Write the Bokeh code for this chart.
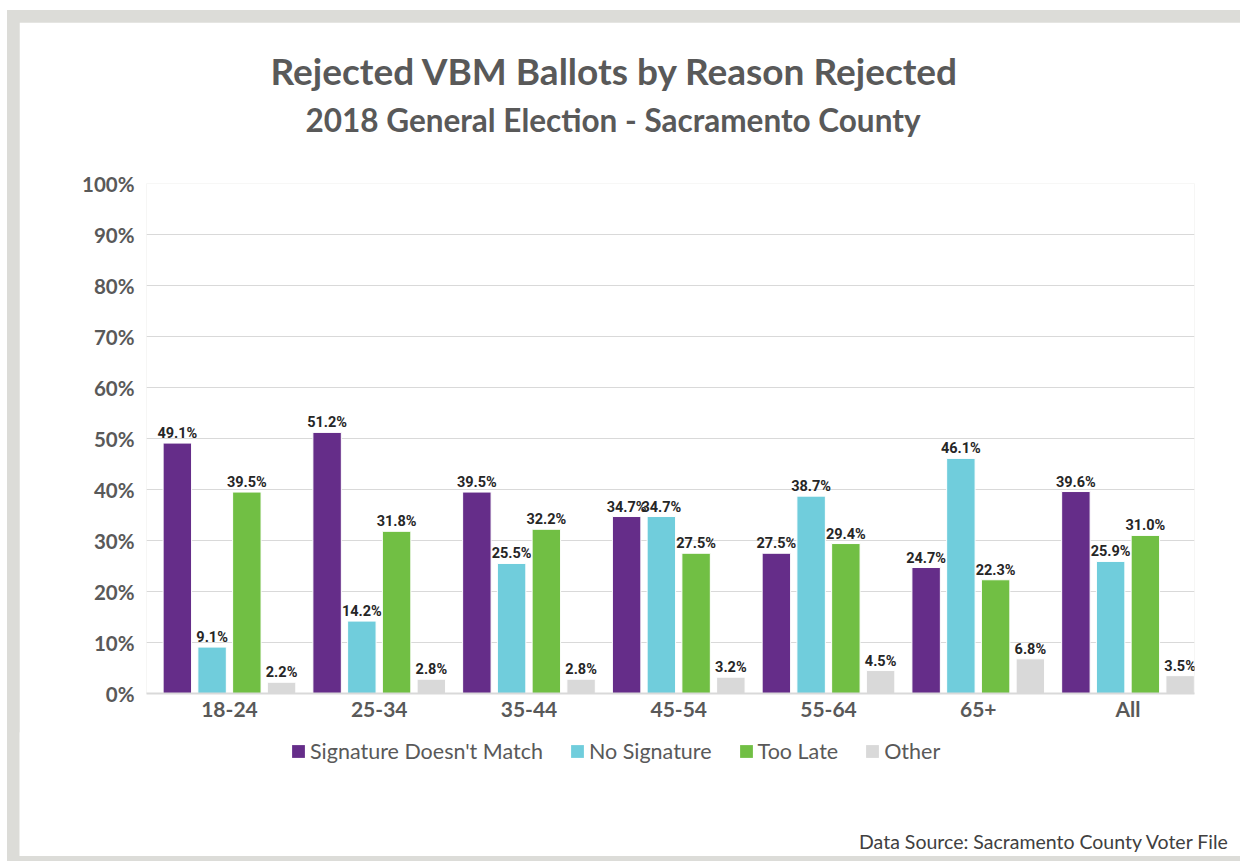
from bokeh.plotting import figure
from bokeh.models import (ColumnDataSource, FixedTicker, Legend, LegendItem, Title, Label, Range1d)
from bokeh.layouts import column
from bokeh.transform import dodge
from bokeh.core.properties import value
from bokeh.embed import file_html
from bokeh.resources import INLINE

# ---- data ----
categories = ["18-24", "25-34", "35-44", "45-54", "55-64", "65+", "All"]
sig_mismatch = [49.1, 51.2, 39.5, 34.7, 27.5, 24.7, 39.6]
no_signature = [9.1, 14.2, 25.5, 34.7, 38.7, 46.1, 25.9]
too_late = [39.5, 31.8, 32.2, 27.5, 29.4, 22.3, 31.0]
other = [2.2, 2.8, 2.8, 3.2, 4.5, 6.8, 3.5]
series_names = ["Signature Doesn't Match", "No Signature", "Too Late", "Other"]
y_ticks = [0, 10, 20, 30, 40, 50, 60, 70, 80, 90, 100]
title_text = "Rejected VBM Ballots by Reason Rejected"
subtitle_text = "2018 General Election - Sacramento County"
source_text = "Data Source: Sacramento County Voter File"

series_values = [sig_mismatch, no_signature, too_late, other]
colors = ["#652d89", "#70cddc", "#71bf44", "#d9d9d9"]
offsets = [-0.348, -0.116, 0.116, 0.348]
bar_w = 0.19

FONT = "Lato"
LABEL_FONT = "Roboto"
GREY = "#595959"
FIG_W = 127 + 1048 + 46
FOOT_H = 124

xs = list(range(len(categories)))
sources = [ColumnDataSource(dict(x=xs, y=vals, lbl=[f"{v:.1f}%" for v in vals]))
           for vals in series_values]

# ---------------- main chart ----------------
p = figure(frame_width=1048, frame_height=510,
           x_range=Range1d(-0.554, 6.444), y_range=Range1d(0, 100),
           output_backend="svg", toolbar_location=None,
           min_border_left=127, min_border_right=46, min_border_top=161, min_border_bottom=40,
           background_fill_color="white", border_fill_color="white", outline_line_color=None)
p.frame_align = False

for src, col, off in zip(sources, colors, offsets):
    p.vbar(x=dodge("x", off, range=p.x_range), top="y", width=bar_w, source=src,
           fill_color=col, line_color="white", line_width=1)
    p.text(x=dodge("x", off, range=p.x_range), y="y", text="lbl", source=src,
           text_font=value(LABEL_FONT), text_font_style="bold", text_font_size="14.5px",
           text_color="#262626", text_align="center", text_baseline="bottom", y_offset=-1)

p.yaxis.ticker = FixedTicker(ticks=y_ticks)
p.yaxis.major_label_overrides = {t: f"{t}%" for t in y_ticks}
p.yaxis.major_label_text_font = FONT
p.yaxis.major_label_text_font_style = "bold"
p.yaxis.major_label_text_font_size = "20.5px"
p.yaxis.major_label_text_color = GREY
p.yaxis.major_label_standoff = 6
p.yaxis.axis_line_color = None
p.yaxis.major_tick_line_color = None
p.yaxis.minor_tick_line_color = None

p.xaxis.ticker = FixedTicker(ticks=xs)
p.xaxis.major_label_overrides = {i: c for i, c in enumerate(categories)}
p.xaxis.major_label_text_font = FONT
p.xaxis.major_label_text_font_style = "bold"
p.xaxis.major_label_text_font_size = "21px"
p.xaxis.major_label_text_color = GREY
p.xaxis.major_label_standoff = -4
p.xaxis.axis_line_color = "#d9d9d9"
p.xaxis.axis_line_width = 2
p.xaxis.major_tick_line_color = None
p.xaxis.minor_tick_line_color = None

p.xgrid.grid_line_color = None
p.ygrid.grid_line_color = "#d9d9d9"
p.ygrid.ticker = FixedTicker(ticks=y_ticks)

# titles: stacked outward from the frame (spacer, subtitle, title)
p.add_layout(Title(text=" ", text_font_size="2px", standoff=41), "above")
p.add_layout(Title(text=subtitle_text, align="left", offset=159, standoff=0,
                   text_font=FONT, text_font_style="bold", text_font_size="31.5px",
                   text_color=GREY), "above")
p.add_layout(Title(text=title_text, align="left", offset=124, standoff=11,
                   text_font=FONT, text_font_style="bold", text_font_size="37px",
                   text_color=GREY), "above")
p.margin = (12, 0, 0, 12)

# ---------------- footer: legend + source note ----------------
# same series drawn on a y-range far above the data, so only their legend swatches show
foot = figure(width=FIG_W, height=FOOT_H, x_range=Range1d(0, FIG_W), y_range=Range1d(1000, 1000 + FOOT_H),
              x_axis_type=None, y_axis_type=None, output_backend="svg", toolbar_location=None,
              min_border=0, background_fill_color="white", border_fill_color="white",
              outline_line_color=None)
foot.grid.visible = False
foot.frame_align = False
foot.margin = (-1, 0, 5, 12)

swatches = [foot.vbar(x="x", top="y", width=0.5, source=src, fill_color=col, line_color=None)
            for src, col in zip(sources, colors)]
legend = Legend(items=[LegendItem(label=n, renderers=[r]) for n, r in zip(series_names, swatches)],
                orientation="horizontal", location=(271, 92),
                label_text_font=FONT, label_text_font_size="21.5px", label_text_color=GREY,
                glyph_width=16, glyph_height=16, label_standoff=4, spacing=26,
                border_line_color=None, background_fill_alpha=0, margin=0, padding=0)
foot.add_layout(legend, "center")
foot.add_layout(Label(x=1210, y=1000 + 15, text=source_text, text_align="right", text_baseline="middle",
                      text_font=FONT, text_font_size="19.5px", text_color="#404040"))

layout = column(p, foot, spacing=0,
                styles={"background-color": "#dcdcd8",
                        "border-left": "7px solid white", "border-top": "10px solid white"})

open("out.html", "w").write(file_html(layout, INLINE))
